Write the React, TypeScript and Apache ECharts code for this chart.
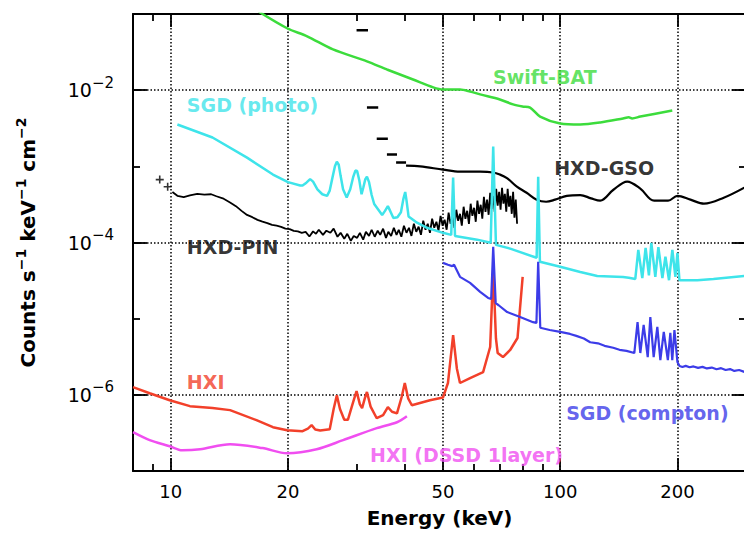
import React, { useEffect, useRef } from 'react';
import * as echarts from 'echarts';

const FONT = 'DejaVu Sans';
const X_MIN = 8;
const X_MAX = 300;
const Y_MIN = 1e-7;
const Y_MAX = 1e-1;

const xMajorTicks = [10, 20, 50, 100, 200];
const xMinorTicks = [9, 30, 40, 60, 70, 80, 90];
const yMajorTicks = [1e-6, 1e-4, 1e-2];
const yMinorTicks = [1e-7, 1e-6, 1e-5, 1e-4, 1e-3, 1e-2, 1e-1];

// Swift-BAT (green)
const swiftBat: [number, number][] = [
  [16.8, 1.08e-1], [19.9, 6.5e-2], [22.4, 5.1e-2], [26.1, 3.43e-2], [31.9, 2.39e-2], [35.9, 1.87e-2],
  [41.9, 1.38e-2], [47.2, 1.09e-2], [50, 1.02e-2], [55.3, 1.02e-2], [58.7, 9.6e-3], [62.3, 8.8e-3],
  [70, 7.55e-3], [75.7, 6.5e-3], [80, 6.1e-3], [83.7, 5.9e-3], [88.8, 4.5e-3], [100, 3.65e-3],
  [112.6, 3.54e-3], [126.7, 3.76e-3], [145, 4.25e-3], [150, 4.4e-3], [153, 4.25e-3], [160.6, 4.5e-3],
  [194, 5.4e-3],
];

// SGD photo-absorption (cyan)
const sgdPhoto: [number, number][] = [
  [10.4, 3.54e-3], [12.8, 2.39e-3], [15.7, 1.3e-3], [18.3, 7.8e-4], [20.0, 6.2e-4], [21.5, 5.6e-4],
  [21.8, 5.6e-4], [22.3, 6.1e-4], [22.8, 6.8e-4], [23.2, 6.3e-4], [23.8, 5.0e-4], [24.5, 4.3e-4],
  [25.2, 4.1e-4], [25.6, 4.8e-4], [26.0, 7.0e-4], [26.4, 1.0e-3], [26.7, 1.15e-3], [27.0, 1.05e-3],
  [27.3, 7.5e-4], [27.7, 5.0e-4], [28.3, 3.9e-4], [28.9, 5.0e-4], [29.4, 7.2e-4], [29.8, 8.8e-4],
  [30.1, 8.7e-4], [30.5, 6.5e-4], [30.9, 4.3e-4], [31.2, 5.2e-4], [31.6, 6.8e-4], [31.9, 7.3e-4],
  [32.3, 6.2e-4], [32.8, 4.2e-4], [33.3, 3.2e-4], [34.9, 2.3e-4], [35.5, 2.6e-4], [36.1, 3.0e-4],
  [36.6, 2.6e-4], [37.3, 2.1e-4], [38.2, 2.15e-4], [39.0, 2.5e-4], [39.6, 3.8e-4], [40.0, 4.6e-4],
  [40.3, 3.6e-4], [40.8, 2.2e-4], [42.9, 1.82e-4], [45.5, 1.56e-4], [50.0, 1.34e-4],
  [52.5, 1.26e-4], [53.1, 7.1e-4], [53.7, 1.22e-4], [61.2, 1.09e-4], [66.3, 9.9e-5], [67.3, 1.82e-3],
  [68.4, 9.3e-5], [74.4, 8.3e-5], [87.0, 6.3e-5], [87.8, 7.3e-4], [88.7, 5.6e-5], [100, 4.8e-5],
  [112.6, 4.1e-5], [124.5, 3.64e-5], [145, 3.53e-5], [150, 3.45e-5], [155.9, 3.32e-5], [158.7, 8.0e-5],
  [162.5, 3.4e-5], [165.7, 8.5e-5], [169, 3.7e-5], [171.4, 9.9e-5], [175.5, 3.53e-5], [178.7, 8.7e-5],
  [183, 3.42e-5], [186.3, 6.5e-5], [190.3, 3.2e-5], [194.1, 8.0e-5], [197.6, 3.53e-5], [200, 7.3e-5],
  [202.4, 3.2e-5], [225, 3.2e-5], [247.5, 3.32e-5], [297, 3.64e-5],
];

// SGD Compton (blue)
const sgdCompton: [number, number][] = [
  [50, 5.4e-5], [51.5, 5.1e-5], [52.8, 4.9e-5], [53.4, 5.1e-5], [55.3, 3.54e-5], [58.7, 2.95e-5],
  [62.3, 2.25e-5], [65.3, 1.87e-5], [66.5, 1.82e-5], [67.3, 8.8e-5], [68.3, 1.6e-5], [69.5, 1.5e-5],
  [73.1, 1.22e-5], [78.9, 1.05e-5], [85.2, 9.0e-6], [86.9, 8.8e-6], [87.8, 5.57e-5], [88.9, 7.6e-6],
  [94, 7.1e-6], [100, 6.7e-6], [106, 6.3e-6], [110, 5.95e-6], [115, 5.5e-6], [119.4, 4.9e-6],
  [125, 4.75e-6], [130, 4.4e-6], [136.8, 4.15e-6], [142, 3.9e-6], [148, 3.78e-6], [155, 3.54e-6],
  [158, 9.0e-6], [160.6, 3.54e-6], [163.8, 8.3e-6], [167.8, 3.13e-6], [170.4, 1.05e-5], [173.8, 3.13e-6],
  [177.6, 7.8e-6], [180.8, 2.86e-6], [184.5, 6.7e-6], [189, 2.86e-6], [191.8, 6.5e-6], [194, 2.86e-6],
  [196.5, 7.1e-6], [200, 2.69e-6], [202.5, 2.39e-6], [206, 2.32e-6], [210, 2.4e-6], [215, 2.3e-6],
  [220, 2.36e-6], [226, 2.26e-6], [232, 2.33e-6], [238, 2.22e-6], [245, 2.28e-6], [252, 2.17e-6],
  [259, 2.24e-6], [266, 2.12e-6], [273, 2.18e-6], [280, 2.06e-6], [288, 2.12e-6], [297, 2.0e-6],
];

// HXI (red)
const hxi: [number, number][] = [
  [8.0, 1.26e-6], [8.83, 1.05e-6], [9.94, 8.5e-7], [11.2, 7.1e-7], [12.8, 6.7e-7], [14.2, 6.3e-7],
  [16.6, 4.65e-7], [18.3, 3.76e-7], [19.9, 3.43e-7], [21.8, 3.33e-7], [22.5, 3.6e-7], [23.0, 4.0e-7],
  [23.5, 3.5e-7], [24.2, 3.4e-7], [25.6, 3.54e-7], [26.2, 6.5e-7], [26.7, 9.9e-7], [27.2, 6.5e-7],
  [27.9, 4.7e-7], [28.5, 4.7e-7], [29.4, 8.0e-7], [30.0, 1.12e-6], [30.6, 7.5e-7], [31.0, 6.7e-7],
  [31.5, 9.0e-7], [31.9, 1.09e-6], [32.6, 7.0e-7], [33.8, 4.93e-7], [35.1, 5.4e-7], [36.1, 6.9e-7],
  [37.0, 6.0e-7], [38.1, 5.7e-7], [39.2, 9.5e-7], [39.9, 1.43e-6], [40.7, 9.0e-7], [41.6, 7.3e-7],
  [46.3, 8.5e-7], [50, 9.2e-7], [51.5, 1.43e-6], [53.1, 6.1e-6], [54.3, 2.2e-6], [55.3, 1.43e-6],
  [58.7, 1.66e-6], [63.4, 1.99e-6], [66.1, 4.25e-6], [67.3, 4.37e-5], [68.4, 5.5e-6], [69.1, 3.54e-6],
  [71.3, 3.13e-6], [74.4, 3.88e-6], [77.7, 5.57e-6], [80.1, 3.54e-5],
];

// HXI DSSD 1 layer (magenta)
const hxiDssd: [number, number][] = [
  [8.0, 3.23e-7], [8.83, 2.54e-7], [9.94, 2.11e-7], [10.7, 1.87e-7], [11.9, 1.93e-7], [14.2, 2.25e-7],
  [17.2, 2.0e-7], [19.9, 1.71e-7], [23.7, 1.93e-7], [27.7, 2.54e-7], [33.8, 3.65e-7], [38.1, 4.37e-7],
  [40.4, 5.25e-7],
];

// HXD-PIN (black, noisy)
const hxdPin: [number, number][] = [
  [10.1, 4.6e-4], [10.4, 4.1e-4], [10.8, 3.95e-4], [11.2, 4.15e-4], [11.7, 4.35e-4], [12.2, 4.25e-4],
  [12.7, 4.3e-4], [13.1, 4.05e-4], [13.6, 3.8e-4], [14.2, 3.35e-4], [14.7, 3.0e-4], [15.2, 2.6e-4],
  [15.7, 2.3e-4], [16.2, 2.15e-4], [16.7, 1.98e-4], [17.2, 1.88e-4], [17.7, 1.8e-4], [18.2, 1.7e-4],
  [18.7, 1.66e-4], [19.2, 1.6e-4], [19.7, 1.52e-4], [20.2, 1.5e-4], [20.7, 1.42e-4], [21.2, 1.4e-4],
  [21.7, 1.34e-4], [22.2, 1.38e-4], [22.7, 1.2e-4], [23.2, 1.4e-4], [23.6, 1.3e-4],
  [24, 1.47e-4], [24.6, 1.26e-4], [25.1, 1.43e-4], [25.7, 1.34e-4], [26.2, 1.52e-4], [26.8, 1.19e-4],
  [27.3, 1.34e-4], [27.9, 1.12e-4], [28.4, 1.3e-4], [29, 1.05e-4], [29.5, 1.22e-4], [30.1, 1.15e-4],
  [30.6, 1.34e-4], [31.2, 1.09e-4], [31.7, 1.38e-4], [32.3, 1.22e-4], [32.8, 1.47e-4], [33.4, 1.19e-4],
  [34, 1.43e-4], [34.5, 1.26e-4], [35.1, 1.52e-4], [35.7, 1.15e-4], [36.2, 1.38e-4], [36.8, 1.22e-4],
  [37.4, 1.56e-4], [38, 1.26e-4], [38.5, 1.47e-4], [39.1, 1.19e-4], [39.7, 1.66e-4], [40.3, 1.34e-4],
  [40.9, 1.56e-4], [41.5, 1.22e-4], [42.1, 1.76e-4], [42.7, 1.38e-4], [43.3, 1.61e-4], [43.9, 1.26e-4],
  [44.5, 1.93e-4], [45.1, 1.47e-4], [45.7, 1.76e-4], [46.3, 1.34e-4], [46.9, 2.05e-4], [47.5, 1.56e-4],
  [48.1, 1.87e-4], [48.7, 1.43e-4], [49.3, 2.24e-4], [49.9, 1.66e-4], [50.5, 1.99e-4], [51.1, 1.47e-4],
  [51.7, 2.46e-4], [52.3, 1.76e-4], [52.9, 2.18e-4], [53.5, 1.56e-4], [54.1, 2.69e-4], [54.7, 1.93e-4],
  [55.3, 2.38e-4], [55.9, 1.66e-4], [56.5, 2.95e-4], [57.1, 2.05e-4], [57.7, 2.61e-4], [58.3, 1.76e-4],
  [58.9, 3.23e-4], [59.5, 2.24e-4], [60.1, 2.86e-4], [60.7, 1.87e-4], [61.3, 3.54e-4], [61.9, 2.38e-4],
  [62.5, 3.13e-4], [63.1, 2.05e-4], [63.7, 3.98e-4], [64.3, 2.53e-4], [64.9, 3.65e-4], [65.5, 2.31e-4],
  [66.1, 4.5e-4], [66.7, 2.77e-4], [67.3, 4.1e-4], [67.9, 2.53e-4], [68.5, 5.08e-4], [69.1, 3.04e-4],
  [69.7, 4.63e-4], [70.3, 2.69e-4], [70.9, 5.23e-4], [71.5, 3.23e-4], [72.1, 4.36e-4], [72.7, 2.53e-4],
  [73.3, 5.08e-4], [73.9, 2.95e-4], [74.5, 4.1e-4], [75.1, 2.38e-4], [75.7, 4.63e-4], [76.3, 2.11e-4],
  [76.9, 3.65e-4], [77.5, 1.76e-4],
];
const hxdPinLowPoints: [number, number][] = [[9.37, 6.7e-4], [9.82, 5.4e-4]];

// HXD-GSO (black): binned low-energy points, then continuous curve
const gsoBinLo = [30.0, 31.9, 33.8, 35.9, 37.9];
const gsoBinHi = [32.1, 34.1, 36.1, 38.1, 40.2];
const gsoBinVal = [6.1e-2, 5.9e-3, 2.31e-3, 1.43e-3, 1.12e-3];
const hxdGso: [number, number][] = [
  [40.2, 1.02e-3], [43.7, 1.0e-3], [50, 9.05e-4], [55.3, 8.5e-4], [62.3, 8.5e-4], [67.3, 8.3e-4],
  [70, 7.8e-4], [73, 7.0e-4], [77.4, 5.4e-4], [82, 4.5e-4], [87, 3.65e-4], [92, 3.43e-4], [97, 3.65e-4],
  [104, 4.1e-4], [112.6, 4.2e-4], [120, 3.8e-4], [126.7, 3.54e-4], [137, 4.93e-4], [148.6, 6.3e-4],
  [160.6, 5.1e-4], [174.2, 3.54e-4], [189.3, 3.54e-4], [200, 4.1e-4], [216, 3.65e-4], [234, 3.23e-4],
  [263, 3.87e-4], [297, 5.25e-4],
];

const COLORS = {
  green: '#3cdc3c',
  cyan: '#3ee4ea',
  blue: '#3c3ce8',
  red: '#f2402a',
  magenta: '#f04ef0',
  black: '#000000',
};

const annotations = [
  { text: 'Swift-BAT', e: 67.2, v: 1.51e-2, color: COLORS.green },
  { text: 'SGD (photo)', e: 11.0, v: 6.3e-3, color: COLORS.cyan },
  { text: 'HXD-GSO', e: 96.5, v: 9.6e-4, color: COLORS.black },
  { text: 'HXD-PIN', e: 11.0, v: 8.8e-5, color: COLORS.black },
  { text: 'HXI', e: 11.0, v: 1.47e-6, color: COLORS.red },
  { text: 'HXI (DSSD 1layer)', e: 32.5, v: 1.61e-7, color: COLORS.magenta },
  { text: 'SGD (compton)', e: 103.6, v: 5.74e-7, color: COLORS.blue },
];

const lg = (v: number) => Math.log10(v);

export default function App() {
  const ref = useRef<HTMLDivElement>(null);

  useEffect(() => {
    if (!ref.current) return;
    const chart = echarts.init(ref.current, null, { renderer: 'svg' });

    const tickLine = { color: '#000', width: 1.8 };
    const frameLine = { show: true, onZero: false, lineStyle: { color: '#000', width: 2 } };
    const noLine = { show: false, onZero: false };
    const gridLine = { show: true, lineStyle: { color: '#000', width: 1.5, type: [1.5, 2] } };

    const decoX = (position: string, values: number[], length: number, line: any, extra: any = {}) => ({
      type: 'value',
      position,
      min: lg(X_MIN),
      max: lg(X_MAX),
      axisLine: line,
      axisTick: { show: true, inside: true, length, customValues: values.map(lg), lineStyle: tickLine },
      axisLabel: { show: false },
      splitLine: { show: false },
      ...extra,
    });
    const decoY = (position: string, values: number[], length: number, line: any, extra: any = {}) => ({
      type: 'value',
      position,
      min: lg(Y_MIN),
      max: lg(Y_MAX),
      axisLine: line,
      axisTick: { show: true, inside: true, length, customValues: values.map(lg), lineStyle: tickLine },
      axisLabel: { show: false },
      splitLine: { show: false },
      ...extra,
    });

    const lineSeries = (data: any[], color: string, width = 2.5, extra: any = {}) => ({
      type: 'line',
      xAxisIndex: 0,
      yAxisIndex: 0,
      data,
      symbol: 'none',
      showSymbol: false,
      clip: true,
      lineStyle: { color, width },
      silent: true,
      ...extra,
    });

    const gsoBins: any[] = [];
    gsoBinLo.forEach((lo, i) => {
      gsoBins.push([lo, gsoBinVal[i]], [gsoBinHi[i], gsoBinVal[i]], [gsoBinHi[i], '-']);
    });

    chart.setOption({
      animation: false,
      backgroundColor: '#fff',
      textStyle: { fontFamily: FONT },
      grid: { left: 133, top: 14, right: -2, bottom: 65, containLabel: false, outerBoundsMode: 'none' },
      xAxis: [
        { type: 'log', logBase: 10, min: X_MIN, max: X_MAX, show: false },
        decoX('bottom', xMinorTicks, 7, frameLine),
        decoX('bottom', xMajorTicks, 13, noLine, {
          axisLabel: {
            show: true,
            customValues: xMajorTicks.map(lg),
            formatter: (v: number) => String(Math.round(Math.pow(10, v))),
            color: '#000',
            fontSize: 18,
            fontFamily: FONT,
            margin: 11,
          },
          splitLine: gridLine,
          name: 'Energy (keV)',
          nameLocation: 'middle',
          nameGap: 37,
          nameTextStyle: { color: '#000', fontSize: 20, fontWeight: 'bold', fontFamily: FONT },
        }),
        decoX('top', xMinorTicks, 7, frameLine),
        decoX('top', xMajorTicks, 13, noLine),
      ],
      yAxis: [
        { type: 'log', logBase: 10, min: Y_MIN, max: Y_MAX, show: false },
        decoY('left', yMinorTicks, 7, frameLine),
        decoY('left', yMajorTicks, 14, noLine, {
          axisLabel: {
            show: true,
            customValues: yMajorTicks.map(lg),
            formatter: (v: number) => `{b|10}{s|−${Math.round(-v)}}`,
            margin: 19,
            color: '#000',
            fontFamily: FONT,
            rich: {
              b: { fontSize: 19, lineHeight: 30, fontFamily: FONT, color: '#000' },
              s: { fontSize: 15, verticalAlign: 'top', fontFamily: FONT, color: '#000' },
            },
          },
          splitLine: gridLine,
          name: '{a|Counts s}{s|−1}{a| keV}{s|−1}{a| cm}{s|−2}',
          nameLocation: 'middle',
          nameRotate: 90,
          nameGap: 91,
          nameTextStyle: {
            rich: {
              a: { fontSize: 20, fontWeight: 'bold', fontFamily: FONT, color: '#000', lineHeight: 28 },
              s: { fontSize: 14, fontWeight: 'bold', fontFamily: FONT, color: '#000', verticalAlign: 'top' },
            },
          },
        }),
        decoY('right', yMinorTicks, 7, frameLine),
        decoY('right', yMajorTicks, 14, noLine),
      ],
      series: [
        lineSeries(hxdPin, COLORS.black, 1.8),
        {
          type: 'scatter',
          xAxisIndex: 0,
          yAxisIndex: 0,
          data: hxdPinLowPoints,
          symbol: 'path://M4,0h2v4h4v2h-4v4h-2v-4h-4v-2h4z',
          symbolSize: 8,
          itemStyle: { color: '#000' },
          silent: true,
        },
        lineSeries(gsoBins, COLORS.black, 2.5),
        lineSeries(hxdGso, COLORS.black, 2.2, { smooth: 0.35 }),
        lineSeries(swiftBat, COLORS.green, 2.5, { smooth: 0.3 }),
        lineSeries(sgdPhoto, COLORS.cyan, 2.5),
        lineSeries(hxiDssd, COLORS.magenta, 2.5, { smooth: 0.3 }),
        lineSeries(hxi, COLORS.red, 2.5),
        lineSeries(sgdCompton, COLORS.blue, 2.2),
        {
          type: 'scatter',
          xAxisIndex: 0,
          yAxisIndex: 0,
          symbolSize: 0,
          silent: true,
          z: 10,
          data: annotations.map((a) => ({
            name: a.text,
            value: [a.e, a.v],
            label: { color: a.color },
          })),
          label: {
            show: true,
            position: [0, 0],
            align: 'left',
            verticalAlign: 'middle',
            formatter: '{b}',
            fontSize: 19,
            fontWeight: 'bold',
            fontFamily: FONT,
          },
        },
      ],
    });

    return () => chart.dispose();
  }, []);

  return (
    <div
      ref={ref}
      style={{ position: 'fixed', left: 0, top: 0, width: 744, height: 536, background: '#fff' }}
    />
  );
}
